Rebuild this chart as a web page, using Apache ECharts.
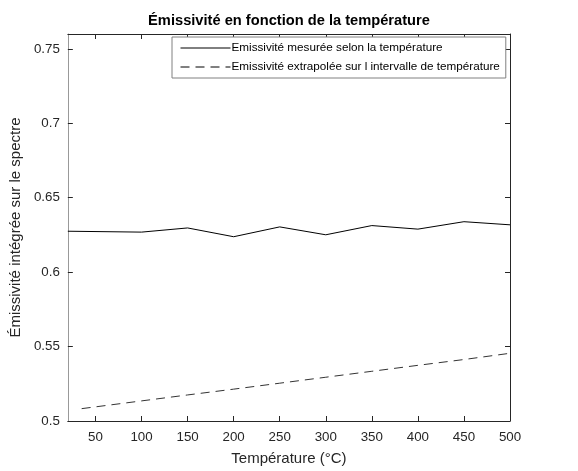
<!DOCTYPE html>
<html>
<head>
<meta charset="utf-8">
<script src="https://cdn.jsdelivr.net/npm/echarts@6/dist/echarts.min.js"></script>
<style>html,body{margin:0;padding:0;background:#fff;}#c{width:578px;height:471px;}</style>
</head>
<body>
<div id="c"></div>
<script>
const measuredT = [20, 100, 150, 200, 250, 300, 350, 400, 450, 500];
const measuredE = [0.6275, 0.6269, 0.6297, 0.6238, 0.6304, 0.6251, 0.6313, 0.6289, 0.6339, 0.6318];
const extrapT = [35, 100, 150, 200, 250, 300, 350, 400, 450, 500];
const extrapE = [0.5083, 0.5135, 0.5175, 0.5214, 0.5254, 0.5294, 0.5334, 0.5374, 0.5413, 0.5455];
const xTicks = [50, 100, 150, 200, 250, 300, 350, 400, 450, 500];
const yTicks = [0.5, 0.55, 0.6, 0.65, 0.7, 0.75];
const seriesNames = ['Emissivité mesurée selon la température', 'Emissivité extrapolée sur l intervalle de température'];

const FONT = 'Liberation Sans, Arial, sans-serif';
const dark = '#262626';
const chart = echarts.init(document.getElementById('c'), null, {renderer: 'canvas'});
const tickStyle = {show: true, inside: true, length: 5, lineStyle: {color: dark, width: 1}};
chart.setOption({
  animation: false,
  backgroundColor: '#fff',
  title: {
    text: 'Émissivité en fonction de la température',
    left: 'center', top: 8,
    textStyle: {fontFamily: FONT, fontSize: 14.67, fontWeight: 'bold', color: '#000'}
  },
  grid: {left: 65, right: 68, top: 34, bottom: 46},
  legend: {
    orient: 'vertical', left: 172, top: 37,
    itemWidth: 50, itemHeight: 10, itemGap: 7,
    padding: [5, 6, 5, 8],
    borderColor: '#808080', borderWidth: 1, backgroundColor: '#fff',
    itemStyle: {opacity: 0},
    lineStyle: {width: 1, color: '#000', opacity: 1},
    textStyle: {fontFamily: FONT, fontSize: 11.7, color: '#000', padding: [0, 0, 0, -4]},
    data: seriesNames
  },
  xAxis: [{
    type: 'value', min: 20, max: 500,
    name: 'Température (°C)', nameLocation: 'middle', nameGap: 30,
    nameTextStyle: {fontFamily: FONT, fontSize: 15, color: '#262626'},
    axisLine: {show: true, onZero: false, lineStyle: {color: dark, width: 1}},
    axisTick: Object.assign({customValues: xTicks}, tickStyle),
    axisLabel: {customValues: xTicks, fontFamily: FONT, fontSize: 13.33, color: '#262626', margin: 10},
    splitLine: {show: false}
  }, {
    type: 'value', min: 20, max: 500, position: 'top',
    axisLine: {show: true, onZero: false, lineStyle: {color: dark, width: 1}},
    axisTick: Object.assign({customValues: xTicks}, tickStyle),
    axisLabel: {show: false, customValues: xTicks},
    splitLine: {show: false}
  }],
  yAxis: [{
    type: 'value', min: 0.5, max: 0.76,
    name: 'Émissivité intégrée sur le spectre', nameLocation: 'middle', nameGap: 36,
    nameTextStyle: {fontFamily: FONT, fontSize: 15, color: '#262626'},
    axisLine: {show: true, onZero: false, lineStyle: {color: '#999999', width: 1}},
    axisTick: Object.assign({customValues: yTicks}, tickStyle),
    axisLabel: {customValues: yTicks, fontFamily: FONT, fontSize: 13.33, color: '#262626', margin: 8},
    splitLine: {show: false}
  }, {
    type: 'value', min: 0.5, max: 0.76, position: 'right',
    axisLine: {show: true, onZero: false, lineStyle: {color: dark, width: 1}},
    axisTick: Object.assign({customValues: yTicks}, tickStyle),
    axisLabel: {show: false, customValues: yTicks},
    splitLine: {show: false}
  }],
  series: [{
    name: seriesNames[0], type: 'line',
    data: measuredT.map((t, i) => [t, measuredE[i]]),
    symbol: 'none', showSymbol: false,
    lineStyle: {color: '#000', width: 1, type: 'solid'},
    itemStyle: {color: '#000'}
  }, {
    name: seriesNames[1], type: 'line',
    data: extrapT.map((t, i) => [t, extrapE[i]]),
    symbol: 'none', showSymbol: false,
    lineStyle: {color: '#333', width: 1, type: [9, 6]},
    itemStyle: {color: '#333'}
  }]
});
</script>
</body>
</html>
